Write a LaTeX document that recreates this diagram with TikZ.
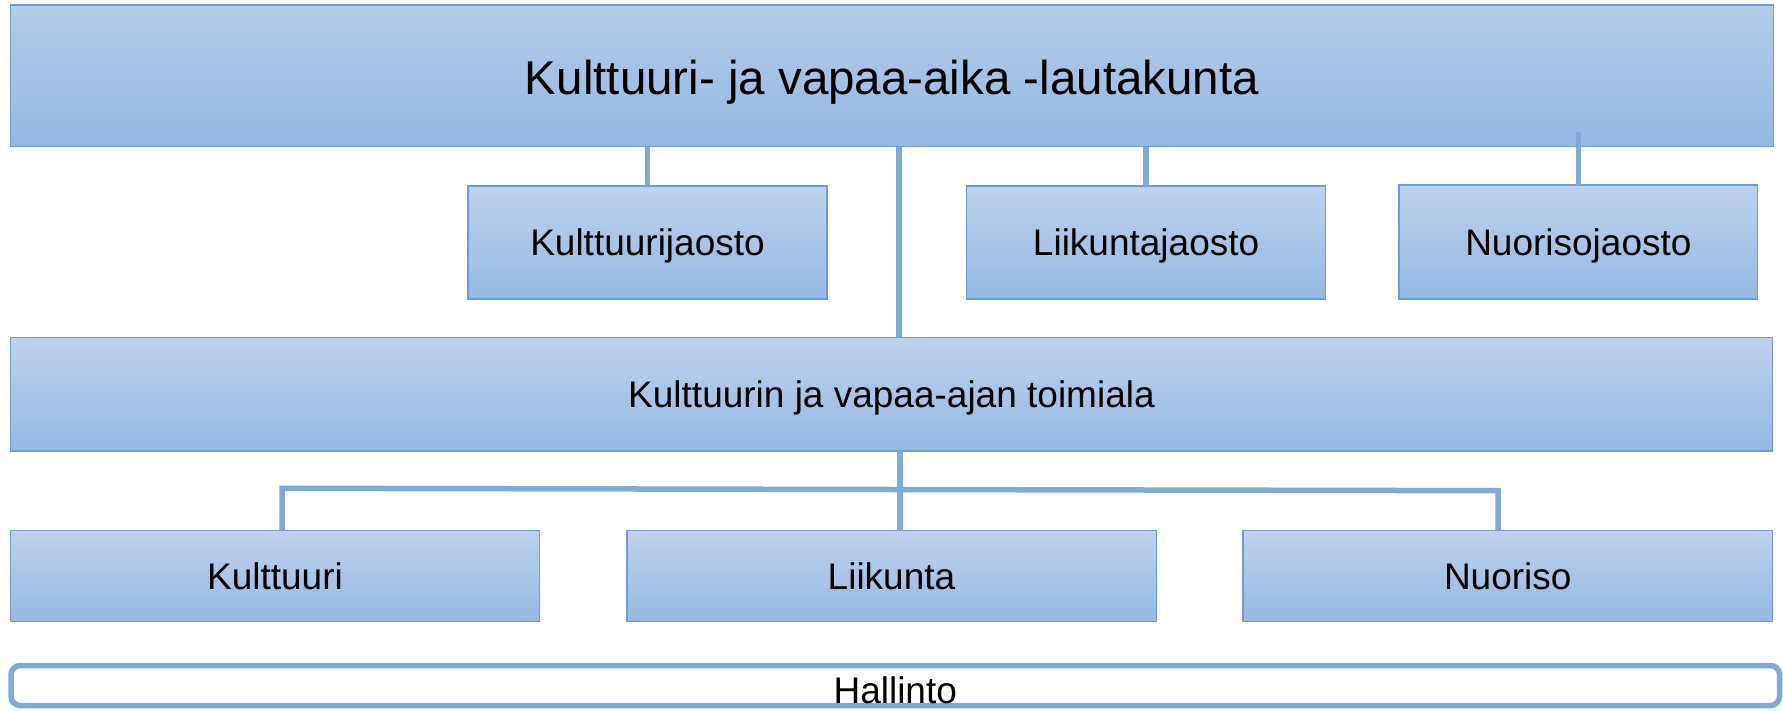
\documentclass[tikz,border=0pt]{standalone}
\usepackage{fontspec}
\setmainfont{Liberation Sans}
\definecolor{boxline}{RGB}{108,156,214}
\definecolor{connc}{RGB}{126,170,219}
\definecolor{gtop}{RGB}{189,210,237}
\definecolor{gbot}{RGB}{148,185,227}
\definecolor{gtopA}{RGB}{178,203,233}
\tikzset{
  box/.style={draw=boxline, line width=1.5pt, top color=gtop, bottom color=gbot,
    inner sep=0pt, outer sep=0pt, text height=26.5pt, text depth=0pt,
    font=\fontsize{37}{40}\selectfont},
  conn/.style={draw=connc, line width=5.5pt},
  hallbox/.style={draw=connc, line width=5.5pt, rounded corners=9pt, fill=white,
    inner sep=0pt, outer sep=0pt, text height=35.5pt, text depth=0pt,
    font=\fontsize{37}{40}\selectfont}
}
\begin{document}
\begin{tikzpicture}[x=1pt,y=1pt]
\useasboundingbox (0,0) rectangle (1783,710);
\fill[white] (0,0) rectangle (1783,710);

\node[box, top color=gtopA, minimum width=1762.6pt, minimum height=141.7pt,
  text height=37pt, font=\fontsize{47.5}{50}\selectfont] (top) at (892,634.15)
  {Kulttuuri- ja vapaa-aika -lautakunta};

\node[box, minimum width=359pt, minimum height=113pt] (kj) at (647.5,467.5) {Kulttuurijaosto};
\node[box, minimum width=358.8pt, minimum height=113pt] (lj) at (1146.1,467.5) {Liikuntajaosto};
\node[box, minimum width=358.7pt, minimum height=114pt] (nj) at (1578.35,468) {Nuorisojaosto};

\node[box, minimum width=1762pt, minimum height=113.5pt] (tm) at (891.5,315.75)
  {Kulttuurin ja vapaa-ajan toimiala};

\node[box, minimum width=529.3pt, minimum height=91pt] (ku) at (275,133.8) {Kulttuuri};
\node[box, minimum width=529.5pt, minimum height=91pt] (li) at (891.5,133.8) {Liikunta};
\node[box, minimum width=529.5pt, minimum height=91pt] (nu) at (1507.75,133.8) {Nuoriso};

\node[hallbox, minimum width=1768.5pt, minimum height=40pt] (ha) at (895.25,24.5) {Hallinto};

% connectors
\draw[conn] (kj.north) -- (kj.north |- top.south);
\draw[conn] (lj.north) -- (lj.north |- top.south);
\coordinate (njtop) at (1578.35,578.3);
\draw[conn] (nj.north) -- (njtop);

\coordinate (cx) at (899,0);
\draw[conn] (cx |- top.south) -- (cx |- tm.north);
\coordinate (cxb) at (900,0);
\draw[conn] (cxb |- tm.south) -- (cxb |- li.north);

\coordinate (busL) at (282,221.7);
\coordinate (busR) at (1498,219.3);
\draw[conn, line join=miter] (busL |- ku.north) -- (busL) -- (busR) -- (busR |- nu.north);
\end{tikzpicture}
\end{document}
